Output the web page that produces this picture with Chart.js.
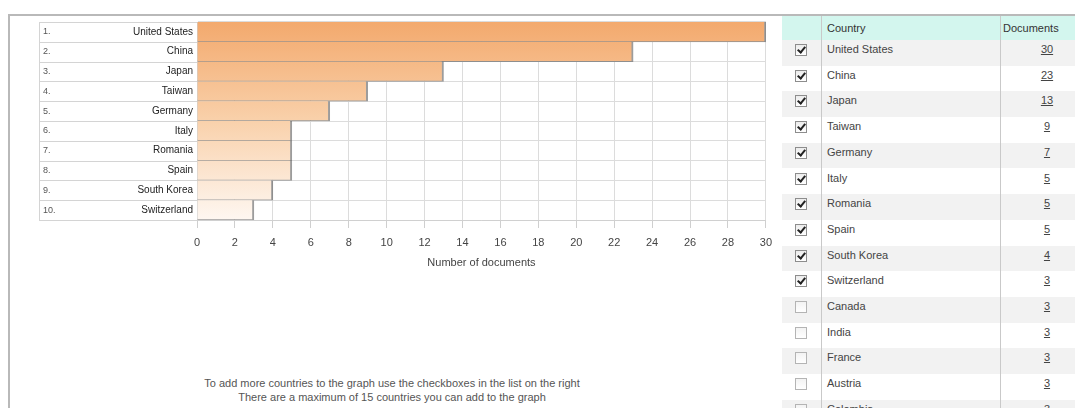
<!DOCTYPE html>
<html>
<head>
<meta charset="utf-8">
<title>Documents by country</title>
<script src="https://cdn.jsdelivr.net/npm/chart.js@4/dist/chart.umd.min.js"></script>
<style>
  html, body { margin: 0; padding: 0; background: #fff; width: 1075px; height: 408px; overflow: hidden;
    font-family: "Liberation Sans", Arial, sans-serif; }
  #frame { position: absolute; left: 8px; top: 14px; width: 1067px; height: 394px;
    border-top: 2px solid #b9b9b9; border-left: 2px solid #b9b9b9; box-sizing: border-box; }
  #chart { position: absolute; left: 0; top: 0; }
  #note { position: absolute; left: 180px; width: 424px; top: 376px; text-align: center;
    font-size: 11px; color: #555; line-height: 14px; }
  #list { position: absolute; left: 782px; top: 16px; width: 293px; height: 392px; overflow: hidden; }
  #list .head { position: absolute; left: 0; top: 0; width: 293px; height: 24px; background: #d3f6ee; }
  #list .row { position: absolute; left: 0; width: 293px; height: 25.7px; }
  #list .row.alt { background: #f2f2f2; }
  #list .txt { position: absolute; font-size: 11px; line-height: 13px; color: #444; white-space: nowrap; }
  #list .head .txt { color: #333; top: 6px; }
  #list .vline { position: absolute; top: 0; width: 1px; height: 392px; background: #c9c9c9; }
  .cb { position: absolute; left: 13px; top: 4px; width: 10px; height: 10px; border: 1px solid #8d8d8d;
    background: linear-gradient(#ececec, #fff); }
  .cb.off { border-color: #b4b4b4; background: linear-gradient(#f3f3f3, #fff); }
  .cb.on::after { content: ""; position: absolute; left: 3px; top: 0px; width: 3px; height: 6px;
    border-right: 2px solid #222; border-bottom: 2px solid #222; transform: rotate(40deg); }
  .num { text-decoration: underline; width: 24px; text-align: center; }
</style>
</head>
<body>
<div id="frame"></div>
<canvas id="chart" width="780" height="272"></canvas>
<div id="list"></div>
<div id="note">To add more countries to the graph use the checkboxes in the list on the right<br>There are a maximum of 15 countries you can add to the graph</div>

<script>
// Countries and their document counts, in ranked order
const countries = ["United States", "China", "Japan", "Taiwan", "Germany", "Italy", "Romania",
  "Spain", "South Korea", "Switzerland", "Canada", "India", "France", "Austria", "Colombia"];
const documents = [30, 23, 13, 9, 7, 5, 5, 5, 4, 3, 3, 3, 3, 3, 3];
// Which countries are ticked for the graph
const selected = [true, true, true, true, true, true, true, true, true, true,
  false, false, false, false, false];
// Horizontal axis ticks
const xTicks = [0, 2, 4, 6, 8, 10, 12, 14, 16, 18, 20, 22, 24, 26, 28, 30];

const chartCountries = countries.filter((c, i) => selected[i]);
const chartDocs = documents.filter((d, i) => selected[i]);
const ranks = chartCountries.map((c, i) => (i + 1) + ".");

// Country list on the right
const list = document.getElementById("list");
const ROW_H = 25.7, HEAD_H = 24;
let html = '<div class="head"><span class="txt" style="left:45px">Country</span>' +
  '<span class="txt" style="left:221px">Documents</span></div>';
countries.forEach((c, i) => {
  const top = HEAD_H + i * ROW_H;
  html += '<div class="row' + (i % 2 === 0 ? ' alt' : '') + '" style="top:' + top + 'px">' +
    '<span class="cb ' + (selected[i] ? 'on' : 'off') + '"></span>' +
    '<span class="txt" style="left:45px;top:3px">' + c + '</span>' +
    '<span class="txt num" style="left:253px;top:3px">' + documents[i] + '</span></div>';
});
html += '<div class="vline" style="left:39px"></div><div class="vline" style="left:218px"></div>';
list.innerHTML = html;

// Label box with rank numbers behind the category labels
const labelBox = {
  id: "labelBox",
  beforeDraw(chart) {
    const { ctx, chartArea, scales } = chart;
    const y = scales.y;
    const left = 39, right = chartArea.left;
    ctx.save();
    ctx.fillStyle = "#fff";
    ctx.fillRect(left, chartArea.top, right - left, chartArea.bottom - chartArea.top);
    ctx.strokeStyle = "#d4d4d4";
    ctx.lineWidth = 1;
    ctx.strokeRect(left + 0.5, chartArea.top + 0.5, right - left, chartArea.bottom - chartArea.top);
    const n = chartCountries.length;
    const step = (chartArea.bottom - chartArea.top) / n;
    for (let i = 1; i < n; i++) {
      const yy = Math.round(chartArea.top + i * step) + 0.5;
      ctx.beginPath();
      ctx.moveTo(left, yy);
      ctx.lineTo(right, yy);
      ctx.stroke();
    }
    ctx.fillStyle = "#555";
    ctx.font = "9px 'Liberation Sans', Arial, sans-serif";
    ctx.textBaseline = "middle";
    ctx.textAlign = "left";
    ranks.forEach((r, i) => ctx.fillText(r, 43, y.getPixelForValue(i)));
    ctx.restore();
  }
};

function barFill(context) {
  const area = context.chart.chartArea;
  if (!area) return "#f6b987";
  const g = context.chart.ctx.createLinearGradient(0, area.top, 0, area.bottom);
  g.addColorStop(0, "#f3a96d");
  g.addColorStop(0.5, "#f9d1ab");
  g.addColorStop(1, "#fef7f1");
  return g;
}

new Chart(document.getElementById("chart"), {
  type: "bar",
  data: {
    labels: chartCountries,
    datasets: [{
      data: chartDocs,
      backgroundColor: barFill,
      borderColor: "rgba(90, 90, 90, 0.6)",
      borderWidth: { top: 0, left: 0, right: 2, bottom: 1 },
      borderSkipped: false,
      categoryPercentage: 1,
      barPercentage: 1
    }]
  },
  options: {
    indexAxis: "y",
    responsive: false,
    devicePixelRatio: 1,
    animation: false,
    layout: { padding: { left: 37, top: 22, right: 13, bottom: 2 } },
    plugins: { legend: { display: false }, tooltip: { enabled: false } },
    scales: {
      x: {
        min: 0, max: 30,
        afterBuildTicks: s => { s.ticks = xTicks.map(v => ({ value: v })); },
        afterFit: s => { s.height = 50; },
        grid: { color: "#dcdcdc", tickLength: 8, tickColor: "#cfcfcf" },
        border: { color: "#d0d0d0" },
        ticks: { color: "#444", font: { size: 11, family: "'Liberation Sans', Arial, sans-serif" },
          padding: 8, maxRotation: 0, autoSkip: false },
        title: { display: true, text: "Number of documents", color: "#444", padding: 0,
          font: { size: 11, family: "'Liberation Sans', Arial, sans-serif" } }
      },
      y: {
        afterFit: s => { s.width = 160; },
        grid: { color: "#dcdcdc", drawTicks: false },
        border: { color: "#d0d0d0" },
        ticks: { color: "#222", padding: 4,
          font: { size: 10, family: "'Liberation Sans', Arial, sans-serif" } }
      }
    }
  },
  plugins: [labelBox]
});
</script>
</body>
</html>
